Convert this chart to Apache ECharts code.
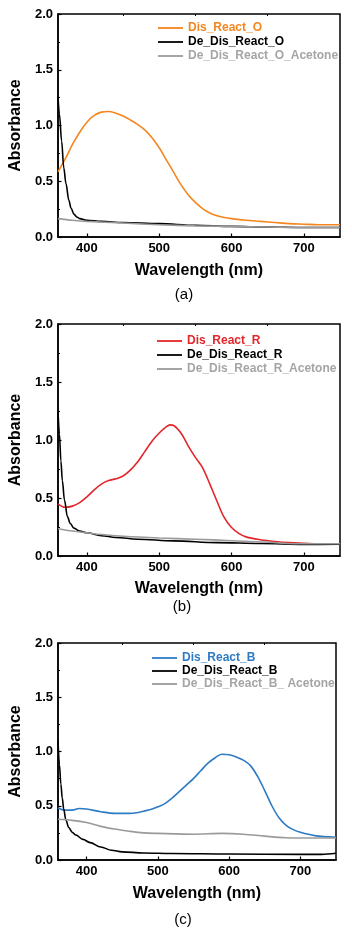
<!DOCTYPE html>
<html>
<head>
<meta charset="utf-8">
<script src="https://cdn.jsdelivr.net/npm/echarts@6/dist/echarts.min.js"></script>
<style>
  html, body { margin: 0; padding: 0; background: #fff; }
  #chart { width: 352px; height: 934px; }
</style>
</head>
<body>
<div id="chart"></div>
<script>
// panel (a) - orange
const waveDisO = [360, 370, 380, 390, 400, 410, 420, 430, 440, 450, 460, 470, 480, 490, 500, 510, 520, 530, 540, 550, 560, 570, 580, 590, 600, 620, 640, 660, 680, 700, 720, 750]
const disReactO = [0.585, 0.70, 0.83, 0.94, 1.03, 1.09, 1.12, 1.125, 1.11, 1.085, 1.05, 1.01, 0.96, 0.89, 0.80, 0.69, 0.58, 0.47, 0.38, 0.31, 0.255, 0.215, 0.19, 0.175, 0.165, 0.15, 0.14, 0.13, 0.12, 0.115, 0.11, 0.11]
const waveDeO = [360, 362, 365, 368, 371, 375, 378, 382, 386, 390, 400, 420, 450, 500, 550, 600, 650, 700, 750]
const deDisReactO = [1.26, 1.10, 0.86, 0.62, 0.48, 0.33, 0.26, 0.205, 0.18, 0.165, 0.15, 0.14, 0.13, 0.12, 0.105, 0.095, 0.09, 0.085, 0.085]
const waveAcO = [360, 380, 400, 450, 500, 550, 600, 650, 700, 750]
const deDisReactOAcetone = [0.165, 0.15, 0.14, 0.125, 0.11, 0.10, 0.095, 0.09, 0.085, 0.085]

// panel (b) - red
const waveDisR = [360, 370, 380, 390, 400, 410, 420, 430, 440, 450, 460, 470, 480, 490, 500, 510, 515, 520, 530, 540, 550, 560, 570, 580, 590, 600, 610, 620, 640, 660, 680, 700, 720, 750]
const disReactR = [0.45, 0.42, 0.43, 0.46, 0.51, 0.57, 0.62, 0.65, 0.665, 0.69, 0.74, 0.81, 0.90, 0.99, 1.06, 1.115, 1.13, 1.125, 1.06, 0.95, 0.85, 0.76, 0.62, 0.47, 0.33, 0.245, 0.195, 0.165, 0.14, 0.125, 0.115, 0.11, 0.105, 0.105]
const waveDeR = [360, 362, 364, 366, 369, 373, 377, 382, 390, 400, 420, 440, 470, 520, 580, 640, 700, 750]
const deDisReactR = [1.25, 1.05, 0.82, 0.65, 0.48, 0.34, 0.28, 0.24, 0.215, 0.20, 0.175, 0.16, 0.145, 0.13, 0.115, 0.108, 0.10, 0.102]
const waveAcR = [360, 380, 400, 420, 450, 500, 550, 600, 650, 700, 750]
const deDisReactRAcetone = [0.235, 0.215, 0.20, 0.185, 0.17, 0.155, 0.145, 0.132, 0.118, 0.105, 0.105]

// panel (c) - blue
const waveDisB = [360, 370, 380, 390, 400, 420, 440, 460, 470, 480, 490, 500, 510, 520, 530, 540, 550, 560, 570, 580, 590, 600, 610, 620, 630, 640, 650, 660, 670, 680, 690, 700, 720, 750]
const disReactB = [0.48, 0.46, 0.46, 0.475, 0.47, 0.445, 0.43, 0.43, 0.435, 0.45, 0.465, 0.49, 0.52, 0.57, 0.63, 0.69, 0.75, 0.82, 0.89, 0.94, 0.975, 0.97, 0.95, 0.92, 0.87, 0.77, 0.64, 0.50, 0.39, 0.32, 0.28, 0.255, 0.225, 0.21]
const waveDeB = [360, 362, 364, 366, 368, 371, 375, 380, 385, 395, 405, 420, 435, 450, 480, 520, 600, 700, 730, 750]
const deDisReactB = [1.10, 0.88, 0.70, 0.57, 0.47, 0.37, 0.30, 0.255, 0.23, 0.19, 0.16, 0.12, 0.09, 0.075, 0.065, 0.06, 0.055, 0.052, 0.052, 0.062]
const waveAcB = [360, 380, 400, 420, 440, 460, 480, 500, 550, 590, 620, 650, 680, 700, 750]
const deDisReactBAcetone = [0.375, 0.365, 0.345, 0.31, 0.285, 0.265, 0.25, 0.245, 0.238, 0.245, 0.238, 0.22, 0.205, 0.203, 0.203]

const xTicks = [400, 500, 600, 700]
const xMinorTicks = [450, 550, 650]
const captions = ['(a)', '(b)', '(c)']

const FONT = 'Arial, "Liberation Sans", sans-serif'
const ORANGE = '#f5861f'
const RED = '#e3262b'
const BLUE = '#2e7bc4'
const BLACK = '#000'
const GRAY = '#9a9a9a'
const GRAY_TEXT = '#a5a5a5'
// thin bar used as the legend line sample
const LINE_ICON = 'path://M0,0L25,0L25,1.8L0,1.8Z'

const zip = (xs, ys) => xs.map((x, i) => [x, ys[i]])

const panels = [
  {
    grid: { left: 57, right: 12, top: 14, height: 223 },
    legend: { left: 158, top: 22, itemGap: 2 },
    nameGap: 26, caption: [184, 295],
    lines: [
      { name: 'Dis_React_O', color: ORANGE, text: ORANGE, data: zip(waveDisO, disReactO) },
      { name: 'De_Dis_React_O', color: BLACK, text: BLACK, data: zip(waveDeO, deDisReactO), steep: true },
      { name: 'De_Dis_React_O_Acetone', color: GRAY, text: GRAY_TEXT, data: zip(waveAcO, deDisReactOAcetone) },
    ],
  },
  {
    grid: { left: 57, right: 12, top: 324, height: 232 },
    legend: { left: 157, top: 335, itemGap: 2 },
    nameGap: 25, caption: [182, 607],
    lines: [
      { name: 'Dis_React_R', color: RED, text: RED, data: zip(waveDisR, disReactR) },
      { name: 'De_Dis_React_R', color: BLACK, text: BLACK, data: zip(waveDeR, deDisReactR), steep: true },
      { name: 'De_Dis_React_R_Acetone', color: GRAY, text: GRAY_TEXT, data: zip(waveAcR, deDisReactRAcetone) },
    ],
  },
  {
    grid: { left: 57, right: 16, top: 643, height: 217 },
    legend: { left: 152, top: 652, itemGap: 1 },
    nameGap: 26, caption: [183, 920],
    lines: [
      { name: 'Dis_React_B', color: BLUE, text: BLUE, data: zip(waveDisB, disReactB) },
      { name: 'De_Dis_React_B', color: BLACK, text: BLACK, data: zip(waveDeB, deDisReactB), steep: true },
      { name: 'De_Dis_React_B_ Acetone', color: GRAY, text: GRAY_TEXT, data: zip(waveAcB, deDisReactBAcetone) },
    ],
  },
]

const grid = [], xAxis = [], yAxis = [], legend = [], series = [], graphic = []

panels.forEach((p, i) => {
  grid.push({ ...p.grid, show: true, borderColor: '#000', borderWidth: 1.5 })
  xAxis.push({
    gridIndex: i, type: 'value', min: 360, max: 750,
    name: 'Wavelength (nm)', nameLocation: 'middle', nameGap: p.nameGap,
    nameTextStyle: { fontSize: 16, fontWeight: 'bold', color: '#000', fontFamily: FONT },
    axisLine: { lineStyle: { color: '#000', width: 1.5 } },
    axisTick: { inside: true, length: 3.5, customValues: xTicks, lineStyle: { color: '#000', width: 1.2 } },
    axisLabel: { customValues: xTicks, margin: 5, fontSize: 13, fontWeight: 'bold', color: '#000', fontFamily: FONT },
    splitLine: { show: false },
  })
  xAxis.push({
    gridIndex: i, type: 'value', min: 360, max: 750,
    axisLine: { show: false },
    axisTick: { inside: true, length: 2, customValues: xMinorTicks, lineStyle: { color: '#000', width: 1 } },
    axisLabel: { show: false },
    splitLine: { show: false },
  })
  yAxis.push({
    gridIndex: i, type: 'value', min: 0, max: 2, interval: 0.5,
    name: 'Absorbance', nameLocation: 'middle', nameGap: 34,
    nameTextStyle: { fontSize: 16, fontWeight: 'bold', color: '#000', fontFamily: FONT },
    axisLine: { show: true, lineStyle: { color: '#000', width: 1.5 } },
    axisTick: { show: true, inside: true, length: 3.5, lineStyle: { color: '#000', width: 1.2 } },
    minorTick: { show: true, splitNumber: 2, length: 2, lineStyle: { color: '#000', width: 1 } },
    axisLabel: { margin: 5, fontSize: 13, fontWeight: 'bold', color: '#000', fontFamily: FONT, formatter: v => v.toFixed(1) },
    splitLine: { show: false },
  })
  legend.push({
    ...p.legend, orient: 'vertical', padding: 0, itemWidth: 25, itemHeight: 13,
    selectedMode: false,
    textStyle: { fontSize: 12, fontWeight: 'bold', fontFamily: FONT },
    data: p.lines.map(l => ({ name: l.name, icon: LINE_ICON, textStyle: { color: l.text } })),
  })
  p.lines.forEach(l => {
    series.push({
      name: l.name, type: 'line', xAxisIndex: i * 2, yAxisIndex: i,
      data: l.data, symbol: 'none',
      smooth: 0.35,
      smoothMonotone: l.steep ? 'x' : undefined,
      itemStyle: { color: l.color },
      lineStyle: { color: l.color, width: 1.6 },
    })
  })
  graphic.push({
    type: 'text', x: p.caption[0], y: p.caption[1],
    style: { text: captions[i], fill: '#000', font: '15px ' + FONT, textAlign: 'center', textVerticalAlign: 'middle' },
  })
})

const chart = echarts.init(document.getElementById('chart'))
chart.setOption({
  animation: false,
  backgroundColor: '#fff',
  grid, xAxis, yAxis, legend, series, graphic,
})
window.addEventListener('resize', () => chart.resize())
</script>
</body>
</html>
